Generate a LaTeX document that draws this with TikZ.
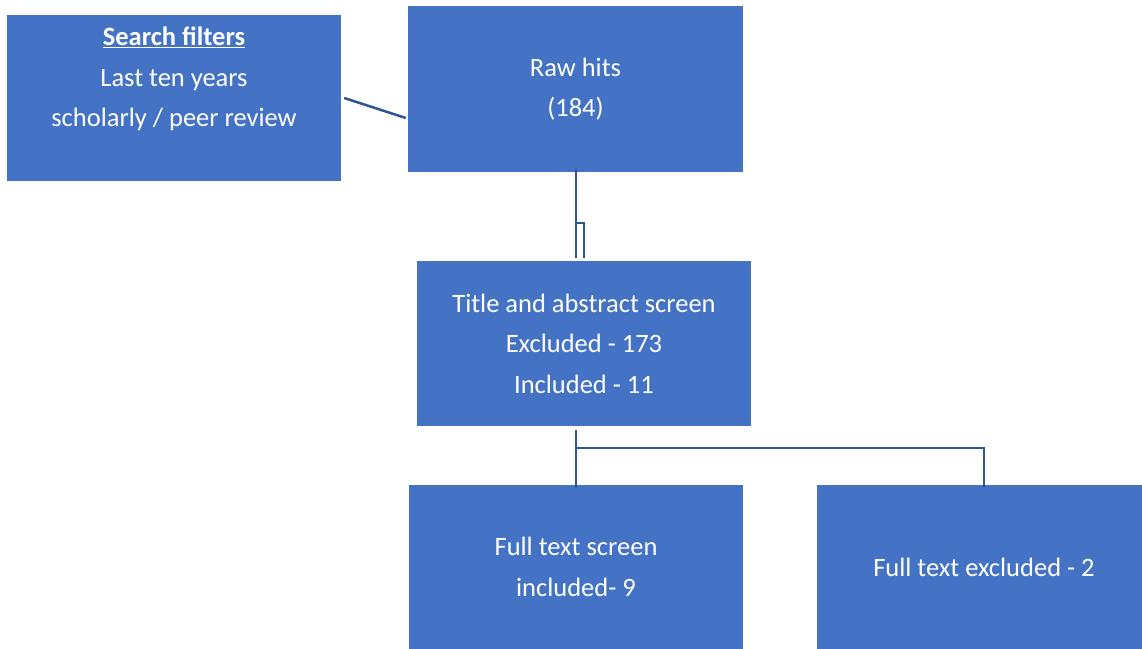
\documentclass[tikz,border=0pt]{standalone}
\usepackage{fontspec}
\setmainfont{Carlito}
\definecolor{boxblue}{HTML}{4472C4}
\definecolor{linkblue}{HTML}{2F5597}
\begin{document}
\begin{tikzpicture}[x=1pt,y=-1pt,
  box/.style={fill=boxblue, inner sep=0pt, minimum width=334pt, minimum height=166pt,
              text=white, align=center, font=\fontsize{26.5}{40.5}\selectfont},
  txt/.style={text=white, align=center, inner sep=0pt, font=\fontsize{26.5}{40.5}\selectfont},
  link/.style={draw=linkblue, line width=2.5pt}]
  \useasboundingbox (0,0) rectangle (1142,648);

  % boxes
  \node[box] (sf) at (174,98) {};
  \node[txt] (sftext) at (174,79) {\underline{\textbf{Search filters}}\\Last ten years\\scholarly / peer review};
  \node[box, minimum width=335pt] (raw) at (575.5,89) {Raw hits\\(184)};
  \node[box, minimum height=165pt] (title) at (584,343.5) {Title and abstract screen\\Excluded - 173\\Included - 11};
  \node[box, minimum height=164pt] (fts) at (576,567) {Full text screen\\included- 9};
  \node[box, minimum height=164pt] (fte) at (984,567) {Full text excluded - 2};

  % connectors
  \draw[link] ([xshift=3pt]sf.east) -- ([xshift=-2pt,yshift=-29pt]raw.west);
  \draw[link] ([xshift=0.5pt,yshift=3pt]raw.south) -- ([xshift=0.5pt,yshift=3pt]raw.south |- title.north);
  \draw[link] ([xshift=0.5pt,yshift=3pt]raw.south) |- (584,223) -- ([yshift=3pt]title.north);
  \draw[link] ([yshift=-3pt]fts.north) -- (576,430);
  \draw[link] (576,448) -| ([yshift=-3pt]fte.north);
\end{tikzpicture}
\end{document}
